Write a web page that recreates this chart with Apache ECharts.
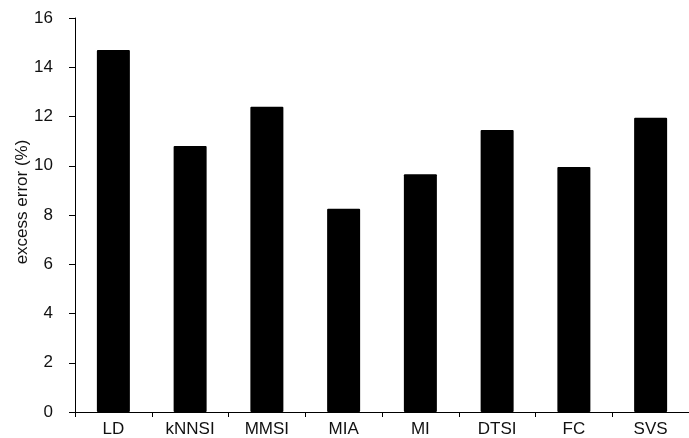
<!DOCTYPE html>
<html>
<head>
<meta charset="utf-8">
<script src="https://cdn.jsdelivr.net/npm/echarts@6/dist/echarts.min.js"></script>
<style>html,body{margin:0;padding:0;background:#fff;}#c{width:689px;height:438px;}</style>
</head>
<body>
<div id="c"></div>
<script>
const categories = ['LD', 'kNNSI', 'MMSI', 'MIA', 'MI', 'DTSI', 'FC', 'SVS'];
const excessError = [14.7, 10.8, 12.4, 8.25, 9.65, 11.45, 9.95, 11.95];
const yTicks = { min: 0, max: 16, interval: 2 };
const yAxisTitle = 'excess error (%)';

const FONT = 'Liberation Sans, Arial, sans-serif';
const chart = echarts.init(document.getElementById('c'), null, { renderer: 'canvas' });
chart.setOption({
  backgroundColor: '#ffffff',
  animation: false,
  grid: { left: 75, top: 18, width: 634, height: 394, containLabel: false },
  xAxis: {
    type: 'category',
    data: categories,
    boundaryGap: true,
    axisLine: { show: true, lineStyle: { color: '#000', width: 1 } },
    axisTick: { show: true, length: 5, lineStyle: { color: '#000' } },
    axisLabel: { color: '#111', fontFamily: FONT, fontSize: 17, margin: 9 },
    splitLine: { show: false }
  },
  yAxis: {
    type: 'value',
    min: yTicks.min, max: yTicks.max, interval: yTicks.interval,
    axisLine: { show: true, lineStyle: { color: '#000', width: 1 } },
    axisTick: { show: true, length: 6, lineStyle: { color: '#000' } },
    axisLabel: { color: '#111', fontFamily: FONT, fontSize: 17, margin: 22 },
    splitLine: { show: false }
  },
  graphic: [{
    type: 'text',
    x: 22, y: 202,
    rotation: Math.PI / 2,
    style: {
      text: yAxisTitle,
      fill: '#111',
      font: '17px ' + FONT,
      align: 'center',
      verticalAlign: 'middle'
    }
  }],
  series: [{
    type: 'bar',
    data: excessError,
    barWidth: 33,
    itemStyle: { color: '#000', borderRadius: 1 }
  }]
});
</script>
</body>
</html>
